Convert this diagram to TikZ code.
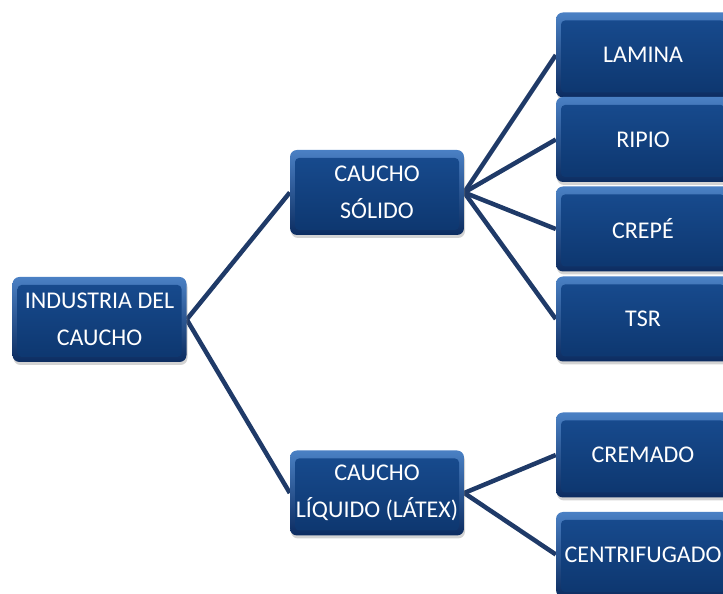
\documentclass[tikz,border=0pt]{standalone}
\usepackage{fontspec}
\setmainfont{Carlito}
\usetikzlibrary{shadows,backgrounds}
\definecolor{rimlight}{HTML}{4A80C4}
\definecolor{rimdark}{HTML}{0C2C60}
\definecolor{facetop}{HTML}{184C90}
\definecolor{facebot}{HTML}{0D366E}
\definecolor{linkcol}{HTML}{1F3A68}
\tikzset{
  box/.style={minimum width=174pt, minimum height=85pt, rounded corners=7pt,
    top color=rimlight, bottom color=rimdark, text=white, align=center,
    font=\fontsize{24}{37}\selectfont, inner sep=0pt,
    drop shadow={opacity=0.35, shadow xshift=1pt, shadow yshift=-3pt},
    path picture={
      \shade[top color=facetop, bottom color=facebot, rounded corners=4pt]
        ([xshift=5pt,yshift=5pt]path picture bounding box.south west)
        rectangle ([xshift=-5pt,yshift=-8pt]path picture bounding box.north east);
    }},
  link/.style={draw=linkcol, line width=4.5pt}
}
\begin{document}
\begin{tikzpicture}[x=1pt,y=1pt]
\useasboundingbox (0,0) rectangle (723,594);
\node[box] (root) at (99.5,274.5) {INDUSTRIA DEL\\CAUCHO};
\node[box] (solido) at (377,401.5) {CAUCHO\\SÓLIDO};
\node[box] (liquido) at (377,101) {CAUCHO\\LÍQUIDO (LÁTEX)};
\node[box] (lamina) at (643,539) {LAMINA};
\node[box] (ripio) at (643,454.5) {RIPIO};
\node[box] (crepe) at (643,365) {CREPÉ};
\node[box] (tsr) at (643,275) {TSR};
\node[box] (cremado) at (643,139) {CREMADO};
\node[box] (centrif) at (643,39.5) {CENTRIFUGADO};
\begin{scope}[on background layer]
\draw[link] (root.east) -- (solido.west);
\draw[link] (root.east) -- (liquido.west);
\draw[link] (solido.east) -- (lamina.west);
\draw[link] (solido.east) -- (ripio.west);
\draw[link] (solido.east) -- (crepe.west);
\draw[link] (solido.east) -- (tsr.west);
\draw[link] (liquido.east) -- (cremado.west);
\draw[link] (liquido.east) -- (centrif.west);
\end{scope}
\end{tikzpicture}
\end{document}
